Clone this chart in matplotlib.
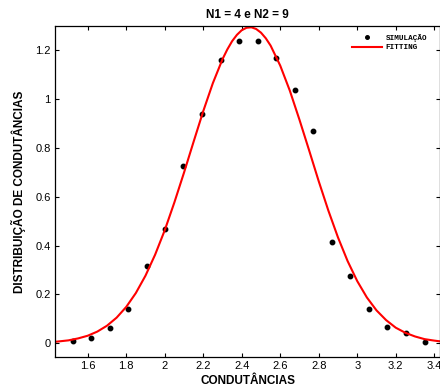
import matplotlib
matplotlib.use("Agg")
import matplotlib.pyplot as plt

# simulated points
sim_x = [1.522, 1.617, 1.716, 1.811, 1.906, 2.003, 2.096, 2.194, 2.291, 2.387,
         2.483, 2.580, 2.675, 2.772, 2.867, 2.962, 3.060, 3.156, 3.253, 3.350]
sim_y = [0.009, 0.023, 0.064, 0.140, 0.317, 0.469, 0.725, 0.939, 1.161, 1.240,
         1.237, 1.170, 1.037, 0.869, 0.417, 0.276, 0.140, 0.068, 0.041, 0.007]

# fitted curve
fit_x = [1.43, 1.50, 1.55, 1.60, 1.65, 1.70, 1.75, 1.80, 1.85, 1.90, 1.95,
         2.00, 2.05, 2.10, 2.15, 2.20, 2.25, 2.30, 2.325, 2.35, 2.375, 2.40,
         2.425, 2.45, 2.475, 2.50, 2.525, 2.55, 2.60, 2.65, 2.70, 2.75, 2.80,
         2.85, 2.90, 2.95, 3.00, 3.05, 3.10, 3.15, 3.20, 3.25, 3.30, 3.35,
         3.40, 3.43]
fit_y = [0.006, 0.012, 0.020, 0.031, 0.048, 0.072, 0.105, 0.149, 0.206, 0.277, 0.363,
         0.463, 0.577, 0.699, 0.826, 0.951, 1.066, 1.164, 1.204, 1.238, 1.264, 1.283,
         1.293, 1.295, 1.288, 1.273, 1.250, 1.220, 1.138, 1.035, 0.916, 0.791, 0.664,
         0.544, 0.434, 0.337, 0.255, 0.188, 0.135, 0.095, 0.064, 0.043, 0.028, 0.017,
         0.011, 0.008]

xticks = [1.6, 1.8, 2.0, 2.2, 2.4, 2.6, 2.8, 3.0, 3.2, 3.4]
xtick_labels = ["1.6", "1.8", "2", "2.2", "2.4", "2.6", "2.8", "3", "3.2", "3.4"]
yticks = [0, 0.2, 0.4, 0.6, 0.8, 1.0, 1.2]
ytick_labels = ["0", "0.2", "0.4", "0.6", "0.8", "1", "1.2"]

plt.rcParams["font.family"] = ["Liberation Sans", "DejaVu Sans"]

fig = plt.figure(figsize=(4.4, 3.89), dpi=100)
ax = fig.add_axes([0.125, 0.083, 0.875, 0.850])

ax.plot(sim_x, sim_y, "o", color="black", markersize=3.2, label="SIMULAÇÃO")
ax.plot(fit_x, fit_y, "-", color="#ff0000", lw=1.5, label="FITTING")

ax.set_xlim(1.43, 3.43)
ax.set_ylim(-0.055, 1.30)
ax.set_xticks(xticks)
ax.set_xticklabels(xtick_labels)
ax.set_yticks(yticks)
ax.set_yticklabels(ytick_labels)
ax.tick_params(direction="in", length=3, width=0.8, labelsize=8,
               top=True, right=True, pad=3)
for s in ax.spines.values():
    s.set_linewidth(0.9)

ax.set_title("N1 = 4 e N2 = 9", fontsize=8.5, fontweight="bold", pad=6)
ax.set_xlabel("CONDUTÂNCIAS", fontsize=8.5, fontweight="bold", labelpad=3)
ax.set_ylabel("DISTRIBUIÇÃO DE CONDUTÂNCIAS", fontsize=8.5, fontweight="bold", labelpad=7)

leg = ax.legend(loc="upper right", bbox_to_anchor=(0.975, 0.985), frameon=False,
                prop={"family": "Liberation Mono", "weight": "bold", "size": 5.5},
                handlelength=3.9, handletextpad=0.5, labelspacing=0.25,
                borderaxespad=0, markerscale=0.8)

fig.savefig("out.png", dpi=100)
